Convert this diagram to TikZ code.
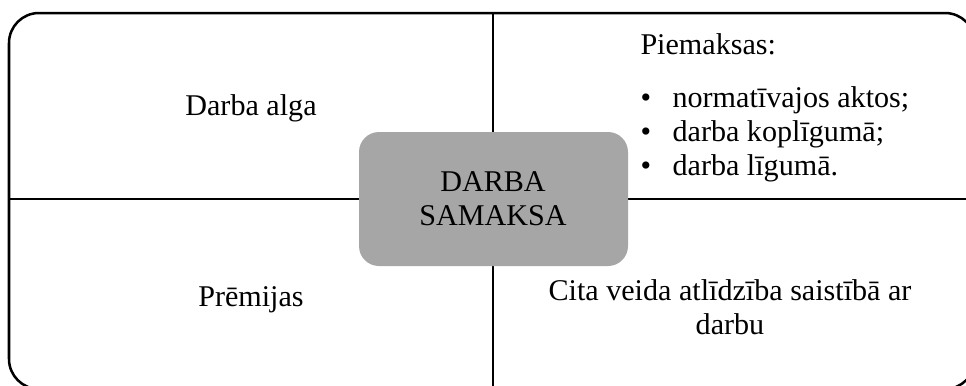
\documentclass[tikz,border=0pt]{standalone}
\usepackage{fontspec}
\setmainfont{Liberation Serif}
\usepackage{tikz}
\usepackage{xcolor}
\definecolor{GrisCentre}{HTML}{A6A6A6}
\tikzset{
Cadre/.style={
 draw=black,
 line width=1pt,
 rounded corners=0.42cm
 },
Trait/.style={
 draw=black,
 line width=1pt
 },
Centre/.style={
 fill=GrisCentre,
 rounded corners=0.28cm
 },
Texte/.style={
 font=\fontsize{12pt}{13.5pt}\selectfont,
 inner sep=0pt,
 align=center
 },
Puce/.style={
 font=\fontsize{12pt}{13.5pt}\selectfont,
 inner sep=0pt,
 anchor=base west
 }
}

\begin{document}
\begin{tikzpicture}[x=0.014cm,y=-0.014cm]
\useasboundingbox (0,0) rectangle (966,385);
\clip (0,0) rectangle (966,385);
\draw[Cadre] (9,13) rectangle (975,389);
\coordinate (haut) at (493,13);
\coordinate (bas) at (493,389);
\coordinate (gauche) at (9,199);
\coordinate (droite) at (975,199);
\draw[Trait] (haut) -- (bas);
\draw[Trait] (gauche) -- (droite);
\fill[Centre] (359,132) rectangle (628,266);
\node[Texte] (centre) at (493,199) {DARBA\\SAMAKSA};
\node[Texte,anchor=base] (alga) at (251,115) {Darba alga};
\node[Texte,anchor=base] (premijas) at (251,306) {Prēmijas};
\node[Texte] (cita) at (730,307) {Cita veida atlīdzība saistībā ar\\darbu};
\node[Puce] (piemaksas) at (640,54) {Piemaksas:};
\foreach \y/\t [count=\i] in {107/normatīvajos aktos;,141/darba koplīgumā;,175/darba līgumā.}
 \node[Puce] (puce\i) at (640,\y) {\makebox[0.45cm][l]{\textbullet}\t};
\end{tikzpicture}
\end{document}
